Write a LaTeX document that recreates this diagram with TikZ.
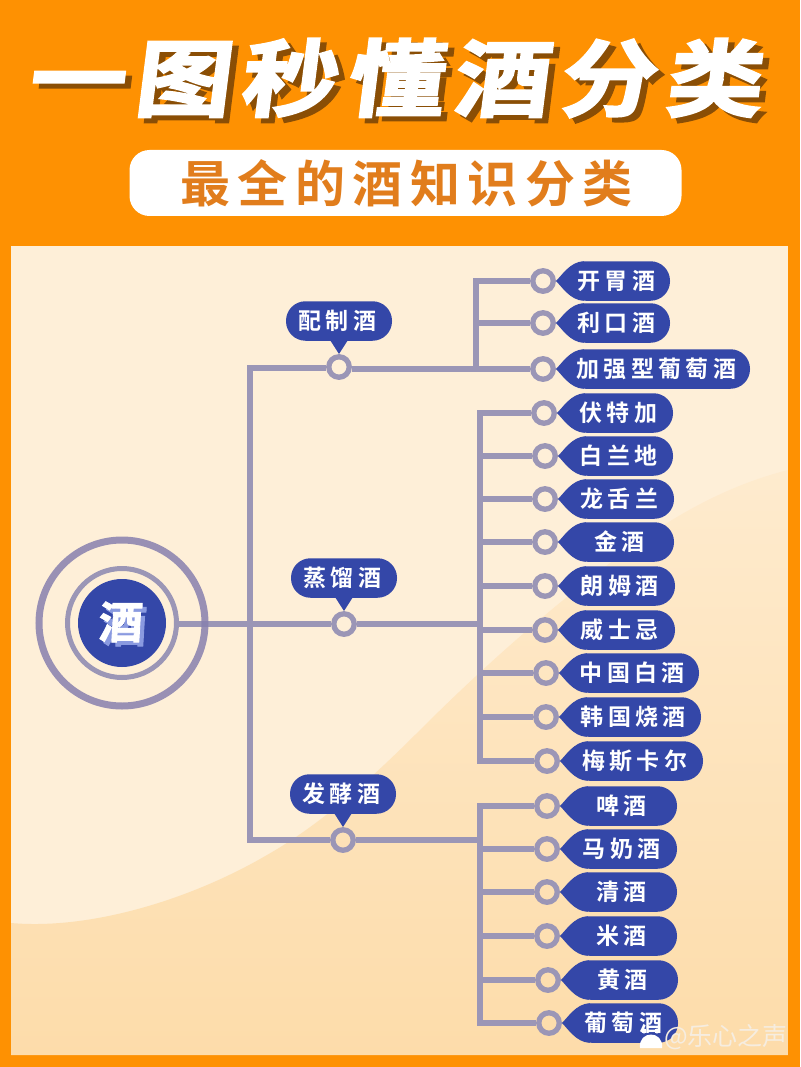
\documentclass[tikz,border=0pt]{standalone}
\usepackage{fontspec}
\newfontfamily\cjk{Noto Sans CJK SC}
\newfontfamily\cjkroot[FakeBold=2]{Noto Sans CJK SC Bold}
\newfontfamily\cjktitle[FakeBold=2.6,LetterSpace=10]{Noto Sans CJK SC Bold}
\newfontfamily\cjklabel[LetterSpace=19]{Noto Sans CJK SC Bold}
\newfontfamily\cjksub[LetterSpace=15]{Noto Sans CJK SC Bold}
\definecolor{frameorange}{HTML}{FE9102}
\definecolor{panellight}{HTML}{FEEFD8}
\definecolor{paneldark}{HTML}{FDDCAA}
\definecolor{panelfade}{HTML}{FEEBCE}
\definecolor{wirecol}{HTML}{9B96B6}
\definecolor{ringover}{HTML}{8880AE}
\definecolor{bubblecol}{HTML}{3447A8}
\definecolor{shadowcol}{HTML}{8A4E05}
\definecolor{subcol}{HTML}{E17D1C}
\definecolor{shade}{HTML}{8A9AE0}
\definecolor{markcol}{HTML}{F6EDE0}
\tikzset{
  x=1pt,y=-1pt,
  wire/.style={draw=wirecol,line width=5.3pt},
  ringnode/.style={circle,draw=wirecol,line width=5.3pt,minimum size=20.5pt,inner sep=0pt},
  pill/.style={fill=bubblecol,rounded corners=19.5pt,minimum height=39.5pt,inner sep=0pt},
  pilltext/.style={inner sep=0pt,text=white,font=\cjklabel\fontsize{23}{23}\selectfont},
  tip/.style={fill=bubblecol},
  titletext/.style={transform shape,xscale=1.15,xslant=.11,inner sep=0pt,font=\cjktitle\fontsize{84}{84}\selectfont},
  roottext/.style={transform shape,xslant=.06,inner sep=0pt,font=\cjkroot\fontsize{44}{44}\selectfont},
}
% #1 name, #2 ring x, #3 y, #4 pill right, #5 text, #6 spine coordinate
\newcommand\leafitem[6]{%
  \pgfmathsetmacro\pl{#2+23}%
  \pgfmathsetmacro\pc{(\pl+#4)/2}%
  \pgfmathsetmacro\pw{#4-\pl}%
  \node[ringnode] (r#1) at (#2,#3) {};
  \node[pill,minimum width=\pw pt] (#1) at (\pc,#3) {};
  \coordinate (t#1) at ([xshift=-10pt]#1.west);
  \fill[tip] (t#1) .. controls ([xshift=-5pt,yshift=4pt]#1.west) and ([xshift=4pt,yshift=19.7pt]#1.west) .. ([xshift=18pt,yshift=19.7pt]#1.west)
    -- ([xshift=18pt,yshift=-19.7pt]#1.west) .. controls ([xshift=4pt,yshift=-19.7pt]#1.west) and ([xshift=-5pt,yshift=-4pt]#1.west) .. (t#1) -- cycle;
  \node[pilltext] (l#1) at ([xshift=-4pt]#1.center) {\hspace*{4.4pt}#5};
  \draw[wire] (#6 |- r#1) -- (r#1.west);
}
% #1 name, #2 x of ring, #3 y of ring, #4 text
\newcommand\catitem[4]{%
  \node[ringnode] (r#1) at (#2,#3) {};
  \node[pill,minimum width=106pt] (#1) at (#2,#3-46) {};
  \node[pilltext] (l#1) at ([xshift=-4pt]#1.center) {\hspace*{4.4pt}#4};
  \coordinate (t#1) at (#2,#3-13);
  \fill[tip] ([xshift=-9pt,yshift=1pt]#1.south) -- (t#1) -- ([xshift=9pt,yshift=1pt]#1.south) -- cycle;
}
\begin{document}
\begin{tikzpicture}
\useasboundingbox (0,0) rectangle (800,1067);
\fill[frameorange] (0,0) rectangle (800,1067);
% panel
\fill[panellight] (11,246) rectangle (788,1055);
\begin{scope}
\clip (11,246) rectangle (788,1055);
\shade[top color=panelfade,middle color=paneldark,bottom color=paneldark] (11,923) .. controls (90,930) and (190,900) .. (267,855)
  .. controls (320,825) and (370,780) .. (420,730)
  .. controls (470,680) and (520,635) .. (567,597)
  .. controls (620,555) and (690,495) .. (788,470) -- (788,1055) -- (11,1055) -- cycle;
\end{scope}
% title
\node[titletext,text=shadowcol] (titleshadow) at (404,83) {一图秒懂酒分类};
\node[titletext,text=white] (title) at (398,78) {一图秒懂酒分类};
% subtitle
\node[fill=white,rounded corners=20pt,minimum width=552pt,minimum height=66pt,inner sep=0pt] (subtitle) at (405.5,183) {};
\node[inner sep=0pt,text=subcol,font=\cjksub\fontsize{50}{50}\selectfont] (subtitletext) at ([yshift=-.5pt]subtitle.center) {\hspace*{1.5pt}最全的酒知识分类};
% root
\node[circle,fill=bubblecol,minimum size=88pt,inner sep=0pt] (root) at (122,623) {};
\node[circle,draw=wirecol,line width=5pt,minimum size=109pt,inner sep=0pt] (rootmid) at (122,623) {};
\node[roottext,text=shade] (rootsh) at (125,626) {酒};
\node[roottext,text=white] (roottxt) at (121,622) {酒};
% hubs
\coordinate (hubtop) at (250,368);
\coordinate (hubmid) at (250,624);
\coordinate (hubbot) at (250,840);
% categories
\catitem{c1}{339}{367}{配制酒}
\catitem{c2}{344}{624}{蒸馏酒}
\catitem{c3}{343}{840}{发酵酒}
% spines
\coordinate (s1top) at (476,281);
\coordinate (s1bot) at (476,368);
\coordinate (s2top) at (480,413);
\coordinate (s2bot) at (480,761);
\coordinate (s3top) at (480,806);
\coordinate (s3bot) at (480,1023);
% main wires
\draw[wire,line cap=rect] (hubtop) -- (hubbot);
\draw[wire] (rootmid.east |- hubmid) -- (hubmid) -- (rc2.west);
\draw[wire] (rc2.east) -- (rc2.east -| s2top);
\draw[wire] (hubtop) -- (hubtop -| rc1.west);
\draw[wire] (hubbot) -- (rc3.west);
\draw[wire] (rc3.east) -- (rc3.east -| s3top);
\draw[wire,line cap=rect] (s1top) -- (s1bot);
\draw[wire,line cap=rect] (s2top) -- (s2bot);
\draw[wire,line cap=rect] (s3top) -- (s3bot);
% leaves
\leafitem{a1}{543}{281}{670}{开胃酒}{s1top}
\leafitem{a2}{543}{323}{670}{利口酒}{s1top}
\leafitem{a3}{543}{369}{750}{加强型葡萄酒}{s1top}
\leafitem{b1}{544}{413}{673}{伏特加}{s2top}
\leafitem{b2}{545}{456}{673}{白兰地}{s2top}
\leafitem{b3}{545}{499}{674}{龙舌兰}{s2top}
\leafitem{b4}{545}{542}{674}{金酒}{s2top}
\leafitem{b5}{545}{586}{675}{朗姆酒}{s2top}
\leafitem{b6}{545}{630}{675}{威士忌}{s2top}
\leafitem{b7}{546}{673}{699}{中国白酒}{s2top}
\leafitem{b8}{546}{717}{701}{韩国烧酒}{s2top}
\leafitem{b9}{547}{761}{703}{梅斯卡尔}{s2top}
\leafitem{d1}{547}{806}{677}{啤酒}{s3top}
\leafitem{d2}{547}{849}{677}{马奶酒}{s3top}
\leafitem{d3}{547}{892}{677}{清酒}{s3top}
\leafitem{d4}{547}{936}{677}{米酒}{s3top}
\leafitem{d5}{548}{980}{678}{黄酒}{s3top}
\leafitem{d6}{549}{1023}{678}{葡萄酒}{s3top}
\draw[wire] (rc1.east |- ra3.west) -- (ra3.west);
% outer ring, translucent over the wire
\node[circle,draw=ringover,draw opacity=.85,line width=7pt,minimum size=166pt,inner sep=0pt] (rootout) at (122,623) {};
% watermark
\fill[white] (640,1048) .. controls (638,1030) and (664,1030) .. (662,1048) -- cycle;
\fill[white] (644,1031) circle (2.5pt) (657,1031) circle (2.5pt);
\node[text=markcol,inner sep=0pt,anchor=west,font=\cjk\fontsize{25}{25}\selectfont] (mark) at (664,1037) {@乐心之声};
\end{tikzpicture}
\end{document}
